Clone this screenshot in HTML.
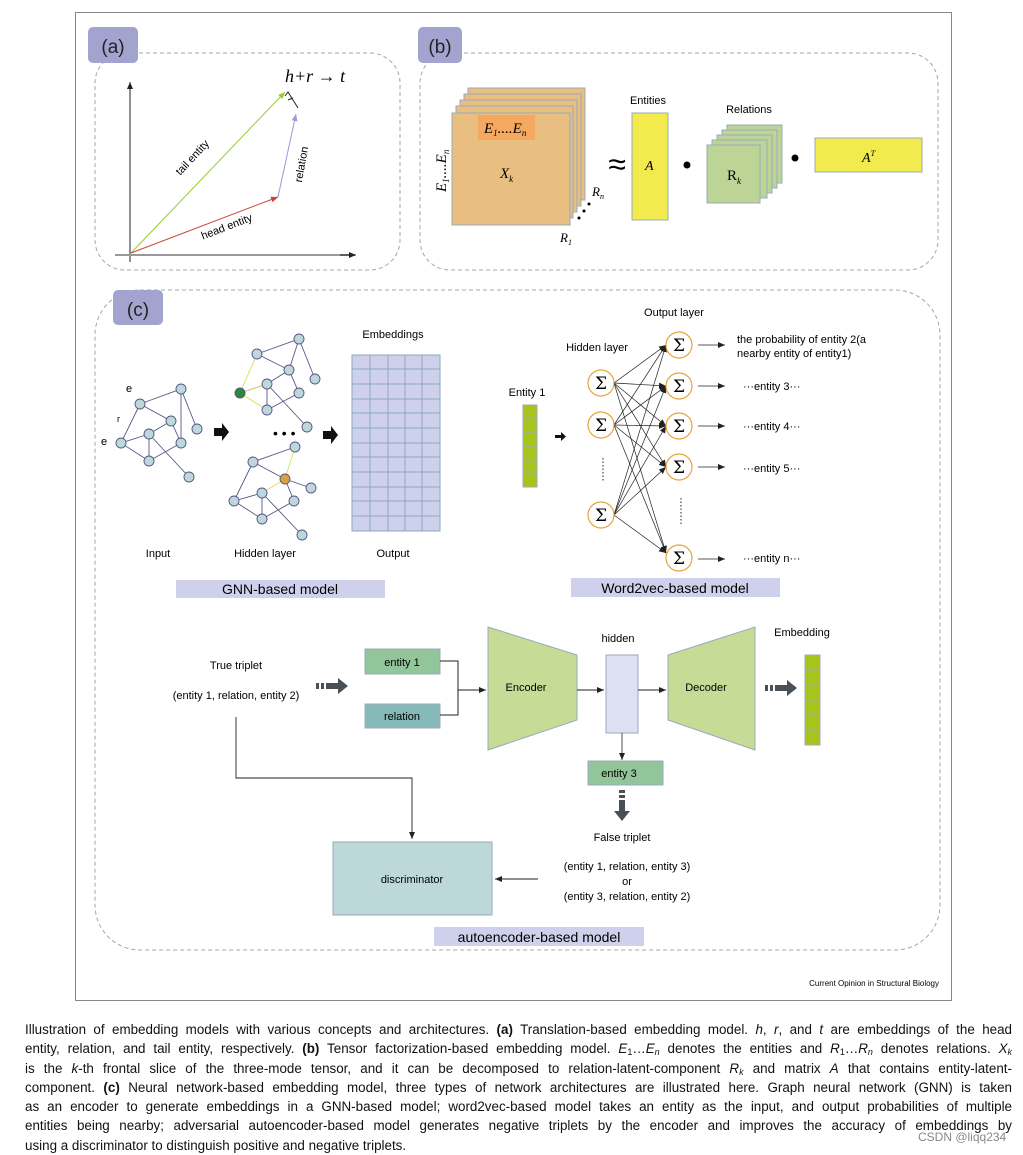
<!DOCTYPE html>
<html><head><meta charset="utf-8"><style>
body{margin:0;background:#fff;width:1023px;height:1154px;overflow:hidden;position:relative;font-family:"Liberation Sans",Arial,sans-serif}
svg{position:absolute;left:0;top:0}
.cap{position:absolute;left:25px;width:987px;font-size:13.4px;color:#111;line-height:19.5px;top:1020px}
.cap div{text-align:justify;text-align-last:justify;white-space:nowrap;height:19.3px}
.cap div.l{text-align-last:left}
sub{font-size:9px;vertical-align:-2px;line-height:0}
.wm{position:absolute;left:918px;top:1130px;font-size:12px;color:#888}
</style></head><body>
<svg width="1023" height="1010" viewBox="0 0 1023 1010" font-family="Liberation Sans, Arial, sans-serif">
<defs>
<marker id="ah" markerWidth="8" markerHeight="8" refX="7" refY="4" orient="auto" markerUnits="userSpaceOnUse"><path d="M0,1 L7,4 L0,7 z" fill="#222"/></marker>
<marker id="ag" markerWidth="8" markerHeight="8" refX="7" refY="4" orient="auto" markerUnits="userSpaceOnUse"><path d="M0,1 L7,4 L0,7 z" fill="#9c3"/></marker>
<marker id="ar" markerWidth="8" markerHeight="8" refX="7" refY="4" orient="auto" markerUnits="userSpaceOnUse"><path d="M0,1 L7,4 L0,7 z" fill="#c43"/></marker>
<marker id="ap" markerWidth="8" markerHeight="8" refX="7" refY="4" orient="auto" markerUnits="userSpaceOnUse"><path d="M0,1 L7,4 L0,7 z" fill="#99d"/></marker>
</defs>
<rect x="75.5" y="12.5" width="876" height="988" fill="#fff" stroke="#888"/>
<!-- (a) -->
<rect x="95" y="53" width="305" height="217" rx="30" fill="none" stroke="#9aa" stroke-dasharray="4,3"/>
<rect x="88" y="27" width="50" height="36" rx="5" fill="#a3a3cf"/>
<text x="113" y="53" font-size="19" text-anchor="middle" fill="#222">(a)</text>
<line x1="130" y1="262" x2="130" y2="82" stroke="#222" marker-end="url(#ah)"/>
<line x1="115" y1="255" x2="355" y2="255" stroke="#999" stroke-width="2"/>
<line x1="340" y1="255" x2="356" y2="255" stroke="#222" marker-end="url(#ah)"/>
<line x1="131" y1="253" x2="285" y2="92" stroke="#9c3" marker-end="url(#ag)"/>
<line x1="131" y1="253" x2="278" y2="197" stroke="#c43" marker-end="url(#ar)"/>
<line x1="278" y1="197" x2="296" y2="114" stroke="#99d" marker-end="url(#ap)"/>
<path d="M285,96 L288,92 L298,108 M288,100 L293,98" stroke="#222" fill="none"/>
<text x="285" y="82" font-size="18" font-style="italic" font-family="Liberation Serif, serif">h+r → t</text>
<text x="195" y="160" font-size="11" transform="rotate(-47 195 160)" text-anchor="middle">tail entity</text>
<text x="228" y="230" font-size="11" transform="rotate(-21 228 230)" text-anchor="middle">head entity</text>
<text x="305" y="165" font-size="11" transform="rotate(-80 305 165)" text-anchor="middle">relation</text>
<!-- (b) -->
<rect x="420" y="53" width="518" height="217" rx="30" fill="none" stroke="#9aa" stroke-dasharray="4,3"/>
<rect x="418" y="27" width="44" height="36" rx="5" fill="#a3a3cf"/>
<text x="440" y="53" font-size="19" text-anchor="middle" fill="#222">(b)</text>
<g fill="#e8bf80" stroke="#9ab">
<rect x="468" y="88" width="117" height="112"/>
<rect x="464" y="94" width="117" height="112"/>
<rect x="460" y="100" width="117" height="112"/>
<rect x="456" y="106" width="117" height="112"/>
<rect x="452" y="113" width="118" height="112"/>
</g>
<rect x="478" y="115" width="57" height="25" fill="#f5a860"/>
<rect x="632" y="113" width="36" height="107" fill="#f3eb4e" stroke="#9ab"/>
<rect x="815" y="138" width="107" height="34" fill="#f3eb4e" stroke="#9ab"/>
<g font-family="Liberation Serif, serif" font-style="italic">
<text x="484" y="133" font-size="15">E<tspan font-size="9" dy="3">1</tspan><tspan dy="-3">....E</tspan><tspan font-size="9" dy="3">n</tspan></text>
<text x="500" y="178" font-size="15">X<tspan font-size="9" dy="4">k</tspan></text>
<text x="446" y="192" font-size="15" transform="rotate(-90 446 192)">E<tspan font-size="9" dy="3">1</tspan><tspan dy="-3">....E</tspan><tspan font-size="9" dy="3">n</tspan></text>
<text x="592" y="196" font-size="13">R<tspan font-size="8" dy="3">n</tspan></text>
<text x="560" y="242" font-size="13">R<tspan font-size="8" dy="3">1</tspan></text>
<text x="645" y="170" font-size="14">A</text>
<text x="862" y="162" font-size="14">A<tspan font-size="8" dy="-6">T</tspan></text>
</g>
<circle cx="579" cy="218" r="1.5"/><circle cx="584" cy="211" r="1.5"/><circle cx="589" cy="204" r="1.5"/>
<text x="617" y="175" font-size="32" text-anchor="middle">≈</text>
<text x="648" y="104" font-size="11" text-anchor="middle">Entities</text>
<circle cx="687" cy="165" r="3.5"/>
<g fill="#bcd596" stroke="#9ab">
<rect x="727" y="125" width="55" height="58"/>
<rect x="722" y="130" width="55" height="58"/>
<rect x="717" y="135" width="55" height="58"/>
<rect x="712" y="140" width="55" height="58"/>
<rect x="707" y="145" width="53" height="58"/>
</g>
<text x="749" y="113" font-size="11" text-anchor="middle">Relations</text>
<text x="727" y="180" font-size="15" font-family="Liberation Serif, serif">R<tspan font-size="9" dy="4" font-style="italic">k</tspan></text>
<circle cx="795" cy="158" r="3.5"/>
<!-- (c) -->
<rect x="95" y="290" width="845" height="660" rx="45" fill="none" stroke="#9aa" stroke-dasharray="4,3"/>
<rect x="113" y="290" width="50" height="35" rx="5" fill="#a3a3cf"/>
<text x="138" y="316" font-size="19" text-anchor="middle" fill="#222">(c)</text>
<g stroke="#558" fill="none" stroke-width="0.9">
<path d="M140,404 L181,389 L197,429 M140,404 L171,421 L181,443 M140,404 L121,443 L149,434 L171,421 M149,434 L149,461 M149,434 L189,477 M121,443 L149,461 L181,443 M181,389 L181,443"/>
<path d="M257,354 L299,339 L315,379 M257,354 L289,370 L267,384 L267,410 M289,370 L299,393 M240,393 L267,384 M267,384 L307,427 M299,339 L289,370 M267,410 L299,393"/>
<path d="M253,462 L295,447 M253,462 L234,501 L262,519 M262,493 L262,519 M262,493 L302,535 M262,493 L234,501 M294,501 L262,519 M285,479 L311,488 M294,501 L285,479 M285,479 L253,462"/>
</g>
<g stroke="#dd5" fill="none" stroke-width="0.9">
<path d="M257,354 L240,393 L267,384 M240,393 L267,410 M295,447 L285,479 L262,493"/>
</g>
<g fill="#bcd8d8" stroke="#558" stroke-width="0.9">
<circle cx="181" cy="389" r="5"/><circle cx="140" cy="404" r="5"/><circle cx="171" cy="421" r="5"/><circle cx="149" cy="434" r="5"/><circle cx="197" cy="429" r="5"/><circle cx="121" cy="443" r="5"/><circle cx="181" cy="443" r="5"/><circle cx="149" cy="461" r="5"/><circle cx="189" cy="477" r="5"/>
<circle cx="299" cy="339" r="5"/><circle cx="257" cy="354" r="5"/><circle cx="289" cy="370" r="5"/><circle cx="315" cy="379" r="5"/><circle cx="267" cy="384" r="5"/><circle cx="299" cy="393" r="5"/><circle cx="267" cy="410" r="5"/><circle cx="307" cy="427" r="5"/>
<circle cx="295" cy="447" r="5"/><circle cx="253" cy="462" r="5"/><circle cx="311" cy="488" r="5"/><circle cx="262" cy="493" r="5"/><circle cx="234" cy="501" r="5"/><circle cx="294" cy="501" r="5"/><circle cx="262" cy="519" r="5"/><circle cx="302" cy="535" r="5"/>
<circle cx="240" cy="393" r="5" fill="#2a8a3a"/><circle cx="285" cy="479" r="5" fill="#d9a040"/>
</g>
<text x="126" y="392" font-size="11">e</text><text x="101" y="445" font-size="11">e</text><text x="117" y="422" font-size="9">r</text>
<path d="M214,428 h8 v-5 l7,9 -7,9 v-5 h-8z" fill="#111"/>
<path d="M323,431 h8 v-5 l7,9 -7,9 v-5 h-8z" fill="#111"/>
<text x="273" y="438" font-size="14">• • •</text>
<g>
<rect x="352" y="355" width="88" height="176" fill="#cfd0ec" stroke="#8ab"/>
<g stroke="#8ab" stroke-width="1">
<line x1="370" y1="355" x2="370" y2="531"/><line x1="388" y1="355" x2="388" y2="531"/><line x1="405" y1="355" x2="405" y2="531"/><line x1="422" y1="355" x2="422" y2="531"/>
<line x1="352" y1="369" x2="440" y2="369"/><line x1="352" y1="384" x2="440" y2="384"/><line x1="352" y1="399" x2="440" y2="399"/><line x1="352" y1="413" x2="440" y2="413"/><line x1="352" y1="428" x2="440" y2="428"/><line x1="352" y1="443" x2="440" y2="443"/><line x1="352" y1="457" x2="440" y2="457"/><line x1="352" y1="472" x2="440" y2="472"/><line x1="352" y1="487" x2="440" y2="487"/><line x1="352" y1="501" x2="440" y2="501"/><line x1="352" y1="516" x2="440" y2="516"/>
</g></g>
<g font-size="11" text-anchor="middle">
<text x="393" y="338">Embeddings</text><text x="158" y="557">Input</text><text x="265" y="557">Hidden layer</text><text x="393" y="557">Output</text>
</g>
<rect x="176" y="580" width="209" height="18" fill="#cfd0ec"/>
<text x="280" y="594" font-size="14" text-anchor="middle">GNN-based model</text>
<text x="527" y="396" font-size="11" text-anchor="middle">Entity 1</text>
<rect x="523" y="405" width="14" height="82" fill="#a8c41c" stroke="#9ab"/>
<g stroke="#9ab"><line x1="523" y1="419" x2="537" y2="419"/><line x1="523" y1="432" x2="537" y2="432"/><line x1="523" y1="446" x2="537" y2="446"/><line x1="523" y1="460" x2="537" y2="460"/><line x1="523" y1="473" x2="537" y2="473"/></g>
<path d="M555,435 h6 v-3 l5,4.5 -5,4.5 v-3 h-6z" fill="#111"/>
<text x="597" y="351" font-size="11" text-anchor="middle">Hidden layer</text>
<text x="674" y="316" font-size="11" text-anchor="middle">Output layer</text>
<g stroke="#222" stroke-width="0.7" marker-end="url(#ah)">
<line x1="614" y1="383" x2="666" y2="345"/><line x1="614" y1="383" x2="666" y2="386"/><line x1="614" y1="383" x2="666" y2="426"/><line x1="614" y1="383" x2="666" y2="467"/><line x1="614" y1="383" x2="666" y2="553"/>
<line x1="614" y1="425" x2="666" y2="345"/><line x1="614" y1="425" x2="666" y2="386"/><line x1="614" y1="425" x2="666" y2="426"/><line x1="614" y1="425" x2="666" y2="467"/><line x1="614" y1="425" x2="666" y2="553"/>
<line x1="614" y1="515" x2="666" y2="345"/><line x1="614" y1="515" x2="666" y2="386"/><line x1="614" y1="515" x2="666" y2="426"/><line x1="614" y1="515" x2="666" y2="467"/><line x1="614" y1="515" x2="666" y2="553"/>
</g>
<g fill="#fff" stroke="#e8a33a" stroke-width="1.2">
<circle cx="601" cy="383" r="13"/><circle cx="601" cy="425" r="13"/><circle cx="601" cy="515" r="13"/>
<circle cx="679" cy="345" r="13"/><circle cx="679" cy="386" r="13"/><circle cx="679" cy="426" r="13"/><circle cx="679" cy="467" r="13"/><circle cx="679" cy="558" r="13"/>
</g>
<g font-size="17" text-anchor="middle" font-family="DejaVu Serif, serif">
<text x="601" y="389">Σ</text><text x="601" y="431">Σ</text><text x="601" y="521">Σ</text>
<text x="679" y="351">Σ</text><text x="679" y="392">Σ</text><text x="679" y="432">Σ</text><text x="679" y="473">Σ</text><text x="679" y="564">Σ</text>
</g>
<g stroke="#222" stroke-dasharray="1.5,2"><line x1="603" y1="458" x2="603" y2="482"/><line x1="681" y1="498" x2="681" y2="525"/></g>
<g stroke="#222" stroke-width="0.8" marker-end="url(#ah)">
<line x1="698" y1="345" x2="725" y2="345"/><line x1="698" y1="386" x2="725" y2="386"/><line x1="698" y1="426" x2="725" y2="426"/><line x1="698" y1="467" x2="725" y2="467"/><line x1="698" y1="559" x2="725" y2="559"/>
</g>
<g font-size="11">
<text x="737" y="343">the probability of entity 2(a</text><text x="737" y="357">nearby entity of entity1)</text>
<text x="743" y="390">···entity 3···</text><text x="743" y="430">···entity 4···</text><text x="743" y="472">···entity 5···</text><text x="743" y="562">···entity n···</text>
</g>
<rect x="571" y="578" width="209" height="19" fill="#cfd0ec"/>
<text x="675" y="593" font-size="14" text-anchor="middle">Word2vec-based model</text>
<g font-size="11" text-anchor="middle">
<text x="236" y="669">True triplet</text><text x="236" y="699">(entity 1, relation, entity 2)</text>
<text x="618" y="642">hidden</text><text x="802" y="636">Embedding</text>
<text x="622" y="841">False triplet</text>
<text x="627" y="870">(entity 1, relation, entity 3)</text><text x="627" y="885">or</text><text x="627" y="900">(entity 3, relation, entity 2)</text>
</g>
<g fill="#4a5058">
<rect x="316" y="683" width="3" height="6"/><rect x="321" y="683" width="3" height="6"/><path d="M326,683 h12 v-5 l10,8 -10,8 v-5 h-12z"/>
<rect x="765" y="685" width="3" height="6"/><rect x="770" y="685" width="3" height="6"/><path d="M775,685 h12 v-5 l10,8 -10,8 v-5 h-12z"/>
<rect x="619" y="790" width="6" height="3"/><rect x="619" y="795" width="6" height="3"/><path d="M619,800 v11 h-5 l8,10 8,-10 h-5 v-11z"/>
</g>
<rect x="365" y="649" width="75" height="25" fill="#93c59a" stroke="#9ab"/>
<text x="402" y="666" font-size="11" text-anchor="middle">entity 1</text>
<rect x="365" y="704" width="75" height="24" fill="#86bab8" stroke="#9ab"/>
<text x="402" y="720" font-size="11" text-anchor="middle">relation</text>
<path d="M440,661 H458 V715 H440 M458,690 H486" stroke="#222" fill="none" marker-end="url(#ah)"/>
<path d="M488,627 L577,655 L577,720 L488,750z" fill="#c5db96" stroke="#9ab"/>
<text x="526" y="691" font-size="11" text-anchor="middle">Encoder</text>
<line x1="577" y1="690" x2="604" y2="690" stroke="#222" marker-end="url(#ah)"/>
<rect x="606" y="655" width="32" height="78" fill="#dde0f2" stroke="#9ab"/>
<line x1="638" y1="690" x2="666" y2="690" stroke="#222" marker-end="url(#ah)"/>
<path d="M668,655 L755,627 L755,750 L668,720z" fill="#c5db96" stroke="#9ab"/>
<text x="706" y="691" font-size="11" text-anchor="middle">Decoder</text>
<rect x="805" y="655" width="15" height="90" fill="#a8c41c" stroke="#9ab"/>
<g stroke="#9ab"><line x1="805" y1="670" x2="820" y2="670"/><line x1="805" y1="685" x2="820" y2="685"/><line x1="805" y1="700" x2="820" y2="700"/><line x1="805" y1="715" x2="820" y2="715"/><line x1="805" y1="730" x2="820" y2="730"/></g>
<line x1="622" y1="733" x2="622" y2="760" stroke="#222" stroke-width="0.8" marker-end="url(#ah)"/>
<rect x="588" y="761" width="75" height="24" fill="#93c59a" stroke="#9ab"/>
<text x="619" y="777" font-size="11" text-anchor="middle">entity 3</text>
<path d="M236,717 V778 H412 V839" stroke="#222" fill="none" stroke-width="0.9" marker-end="url(#ah)"/>
<rect x="333" y="842" width="159" height="73" fill="#bcd8d8" stroke="#9ab"/>
<text x="412" y="883" font-size="11" text-anchor="middle">discriminator</text>
<line x1="538" y1="879" x2="495" y2="879" stroke="#222" stroke-width="0.9" marker-end="url(#ah)"/>
<rect x="434" y="927" width="210" height="19" fill="#cfd0ec"/>
<text x="539" y="942" font-size="14" text-anchor="middle">autoencoder-based model</text>
<text x="939" y="986" font-size="8" text-anchor="end">Current Opinion in Structural Biology</text>
</svg>
<div class="cap">
<div>Illustration of embedding models with various concepts and architectures. <b>(a)</b> Translation-based embedding model. <i>h</i>, <i>r</i>, and <i>t</i> are embeddings of the head</div>
<div>entity, relation, and tail entity, respectively. <b>(b)</b> Tensor factorization-based embedding model. <i>E</i><sub>1</sub>…<i>E<sub>n</sub></i> denotes the entities and <i>R</i><sub>1</sub>…<i>R<sub>n</sub></i> denotes relations. <i>X<sub>k</sub></i></div>
<div>is the <i>k</i>-th frontal slice of the three-mode tensor, and it can be decomposed to relation-latent-component <i>R<sub>k</sub></i> and matrix <i>A</i> that contains entity-latent-</div>
<div>component. <b>(c)</b> Neural network-based embedding model, three types of network architectures are illustrated here. Graph neural network (GNN) is taken</div>
<div>as an encoder to generate embeddings in a GNN-based model; word2vec-based model takes an entity as the input, and output probabilities of multiple</div>
<div>entities being nearby; adversarial autoencoder-based model generates negative triplets by the encoder and improves the accuracy of embeddings by</div>
<div class="l">using a discriminator to distinguish positive and negative triplets.</div>
</div>
<div class="wm">CSDN @liqq234</div>
</body></html>
